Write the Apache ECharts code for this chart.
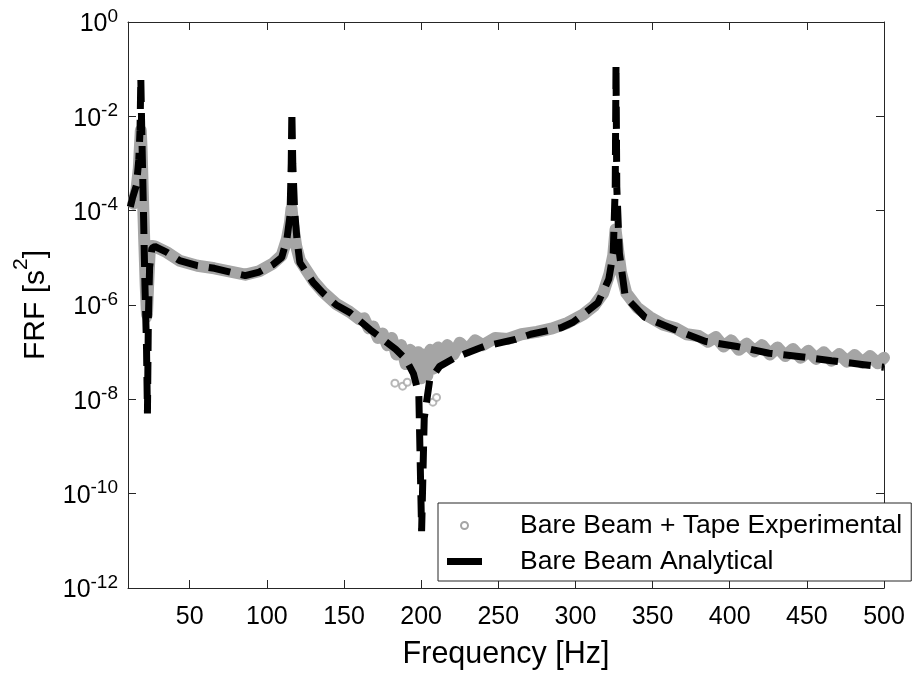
<!DOCTYPE html>
<html lang="en">
<head>
    <meta charset="UTF-8">
    <title>FRF</title>
</head>
<style>
    body{
        margin: 0;
        padding: 0;
        background-color: #fff;
    }
    .main{
        width: 914px;
        height: 677px;
    }
</style>
<body>
    <div class="main"></div>
</body>
<script src="https://cdn.jsdelivr.net/npm/echarts/dist/echarts.min.js"></script>
<script>
  // tick positions
  var xTicks = [50, 100, 150, 200, 250, 300, 350, 400, 450, 500];
  var yTicks = [1e-12, 1e-10, 1e-8, 1e-6, 1e-4, 1e-2, 1];

  // Bare Beam + Tape Experimental
  var expFreq = [13.5, 15.5, 17.0, 17.8, 18.3, 18.8, 19.5, 20.5, 21.5, 22.3, 23.0, 24.0, 25.5, 27.4,
    35, 43.5, 55, 66, 78, 86, 95, 104, 109.6, 113, 115, 116, 117, 119, 121.4, 130, 136.3, 145, 153.8,
    160, 163, 166, 169, 172, 175, 178, 181, 184, 187, 190, 193, 196, 198, 200, 202, 204, 206, 208, 211,
    214, 217, 221, 225, 230, 235, 240, 248, 256, 265, 275, 285, 295, 305, 312, 318, 322, 324.5, 326,
    326.3, 327.5, 329.5, 333, 340, 348, 357, 365, 372, 380, 386, 391, 396, 401, 406, 411, 416, 421,
    426, 431, 436, 441, 446, 451, 456, 461, 466, 471, 476, 481, 486, 491, 496, 500];
  var expFRF = [1.41e-4, 2.82e-4, 7.9e-4, 2.5e-3, 5.0e-3, 2.0e-3, 3.2e-4, 2.5e-5, 2.5e-6, 6.3e-7, 2.5e-6, 1.26e-5, 1.78e-5, 1.74e-5,
    1.32e-5, 8.7e-6, 6.8e-6, 6.0e-6, 5.0e-6, 4.4e-6, 5.2e-6, 7.6e-6, 1.12e-5, 2.5e-5, 5.6e-5, 1.12e-4, 5.0e-5, 1.78e-5, 8.9e-6, 3.3e-6, 1.9e-6, 1.05e-6, 7.1e-7,
    5.0e-7, 5.2e-7, 3.2e-7, 3.5e-7, 2.0e-7, 2.5e-7, 1.41e-7, 2.0e-7, 8.9e-8, 1.41e-7, 5.6e-8, 1.12e-7, 4.0e-8, 1.0e-7, 2.8e-8, 8.9e-8, 3.2e-8, 1.12e-7, 4.5e-8, 1.26e-7,
    7.1e-8, 1.41e-7, 8.9e-8, 1.58e-7, 1.12e-7, 1.78e-7, 1.41e-7, 2.0e-7, 1.9e-7, 2.4e-7, 2.7e-7, 3.2e-7, 4.2e-7, 6.3e-7, 9.5e-7, 1.78e-6, 4.5e-6, 1.12e-5, 4.0e-5,
    4.4e-5, 1.58e-5, 5.0e-6, 1.78e-6, 8.9e-7, 5.6e-7, 3.8e-7, 3.2e-7, 2.4e-7, 2.2e-7, 1.66e-7, 2.1e-7, 1.32e-7, 1.78e-7, 1.12e-7, 1.51e-7, 1.05e-7, 1.41e-7,
    8.9e-8, 1.26e-7, 8.3e-8, 1.17e-7, 7.6e-8, 1.07e-7, 7.2e-8, 1.0e-7, 6.6e-8, 9.1e-8, 6.3e-8, 8.7e-8, 6.0e-8, 8.3e-8, 5.8e-8, 7.6e-8];

  // loose experimental points around the 200 Hz dip
  var outFreq = [22.4, 183, 188, 191, 207.6, 210];
  var outFRF = [5.2e-7, 2.2e-8, 1.9e-8, 2.3e-8, 8.7e-9, 1.1e-8];

  // Bare Beam Analytical
  var anaFreq = [11.5, 13.0, 15.5, 17.0, 17.8, 18.3, 18.8, 19.3, 20.0, 21.0, 22.0, 22.6, 23.2, 24.0, 25.5, 27.4,
    35, 43.5, 55, 66, 78, 86, 95, 104, 109.6, 113, 115, 115.8, 116.2, 116.8, 118, 119.5, 121.4, 130, 136.3,
    145, 153.8, 167, 183.5, 190, 195, 198.5, 200.3, 202, 205.5, 212, 222.5, 240.7, 261, 271, 290.7, 298.4,
    314.6, 321.6, 324.5, 325.8, 326.3, 326.8, 328.5, 332.3, 345, 364.5, 384, 404.7, 425.5, 444.7, 466, 485.6, 500];
  var anaFRF = [1.2e-4, 1.9e-4, 3.5e-4, 1.2e-3, 5.1e-3, 6.5e-2, 7.9e-3, 1.26e-3, 1.0e-4, 2.5e-6, 1.26e-7, 5.0e-9, 5.0e-7, 6.3e-6, 1.6e-5, 1.74e-5,
    1.32e-5, 8.7e-6, 6.8e-6, 6.0e-6, 4.8e-6, 4.2e-6, 5.0e-6, 7.2e-6, 1.02e-5, 2.5e-5, 7.9e-5, 1.0e-3, 1.26e-2, 1.0e-3, 1.0e-4, 2.5e-5, 7.9e-6, 3.0e-6, 1.8e-6,
    1.0e-6, 6.9e-7, 3.0e-7, 1.15e-7, 7.1e-8, 3.5e-8, 1.26e-8, 1.6e-11, 4.0e-9, 2.5e-8, 5.0e-8, 7.8e-8, 1.32e-7, 1.86e-7, 2.4e-7, 3.3e-7, 4.3e-7,
    1.12e-6, 3.5e-6, 1.26e-5, 3.2e-4, 0.123, 3.2e-4, 1.26e-5, 1.5e-6, 5.5e-7, 3.0e-7, 1.7e-7, 1.32e-7, 9.5e-8, 8.1e-8, 6.6e-8, 5.5e-8, 4.8e-8];

  function pairs(xs, ys) {
    return xs.map(function (x, i) { return [x, ys[i]]; });
  }

  var font = "'Liberation Sans', Arial, sans-serif";
  var axisColor = '#262626';
  var expName = 'Bare Beam + Tape Experimental';
  var anaName = 'Bare Beam Analytical';

  var myChart = echarts.init(document.querySelector('.main'));

  var tickStyle = { show: true, inside: true, length: 8, lineStyle: { color: axisColor, width: 1 } };
  var lineStyle = { show: true, onZero: false, lineStyle: { color: axisColor, width: 1 } };

  var option = {
    animation: false,
    backgroundColor: '#fff',
    textStyle: { fontFamily: font },
    grid: { left: 128, top: 22, right: 30, bottom: 89, containLabel: false, outerBoundsMode: 'none' },
    legend: {
      orient: 'vertical',
      left: 438,
      top: 503,
      padding: [9, 9, 6, 9],
      itemGap: 9,
      itemWidth: 35,
      itemHeight: 7,
      backgroundColor: '#fff',
      borderColor: axisColor,
      borderWidth: 1,
      borderRadius: 0,
      textStyle: { fontFamily: font, fontSize: 26.5, color: '#000', padding: [0, 0, 0, 33] },
      data: [
        { name: expName, icon: 'emptyCircle', itemStyle: { color: '#a5a5a5' } },
        { name: anaName, icon: 'rect', itemStyle: { color: '#000', borderWidth: 0 } }
      ]
    },
    xAxis: [{
      type: 'value',
      min: 10,
      max: 500,
      name: 'Frequency [Hz]',
      nameLocation: 'middle',
      nameGap: 51,
      nameTextStyle: { fontFamily: font, fontSize: 30.5, color: '#000' },
      axisLine: lineStyle,
      axisTick: Object.assign({ customValues: xTicks }, tickStyle),
      axisLabel: { customValues: xTicks, margin: 17, fontFamily: font, fontSize: 25, color: '#000' },
      splitLine: { show: false }
    }, {
      type: 'value',
      position: 'top',
      min: 10,
      max: 500,
      axisLine: lineStyle,
      axisTick: Object.assign({ customValues: xTicks }, tickStyle),
      axisLabel: { show: false },
      splitLine: { show: false }
    }],
    yAxis: [{
      type: 'log',
      logBase: 10,
      min: 1e-12,
      max: 1,
      name: '{b|FRF [s}{s|2}{b|]}',
      nameLocation: 'middle',
      nameGap: 77,
      nameTextStyle: {
        fontFamily: font,
        color: '#000',
        rich: {
          b: { fontFamily: font, fontSize: 30, lineHeight: 16, verticalAlign: 'bottom', color: '#000' },
          s: { fontFamily: font, fontSize: 21, lineHeight: 40, verticalAlign: 'top', color: '#000' }
        }
      },
      axisLine: lineStyle,
      axisTick: Object.assign({ customValues: yTicks }, tickStyle),
      axisLabel: {
        customValues: yTicks,
        margin: 10,
        formatter: function (v) {
          var e = Math.round(Math.log10(v));
          return '{b|10}{s|' + e + '}';
        },
        rich: {
          b: { fontFamily: font, fontSize: 25, lineHeight: 18, verticalAlign: 'bottom', color: '#000' },
          s: { fontFamily: font, fontSize: 19, lineHeight: 30, verticalAlign: 'top', color: '#000' }
        }
      },
      splitLine: { show: false },
      minorTick: { show: false }
    }, {
      type: 'log',
      logBase: 10,
      position: 'right',
      min: 1e-12,
      max: 1,
      axisLine: lineStyle,
      axisTick: Object.assign({ customValues: yTicks }, tickStyle),
      axisLabel: { show: false },
      splitLine: { show: false }
    }],
    series: [
      {
        name: expName,
        type: 'line',
        data: pairs(expFreq, expFRF),
        showSymbol: false,
        symbol: 'none',
        itemStyle: { color: '#a5a5a5' },
        lineStyle: { color: '#a5a5a5', width: 12, join: 'round', cap: 'round' },
        z: 2
      },
      {
        name: expName,
        type: 'scatter',
        data: pairs(outFreq, outFRF),
        symbol: 'emptyCircle',
        symbolSize: 7,
        itemStyle: { color: '#a5a5a5', borderWidth: 2 },
        z: 3
      },
      {
        name: anaName,
        type: 'line',
        data: pairs(anaFreq, anaFRF),
        showSymbol: false,
        symbol: 'none',
        itemStyle: { color: '#000' },
        lineStyle: { color: '#000', width: 7, type: [22, 11], cap: 'butt' },
        z: 4
      }
    ]
  };

  myChart.setOption(option);
</script>
</html>
